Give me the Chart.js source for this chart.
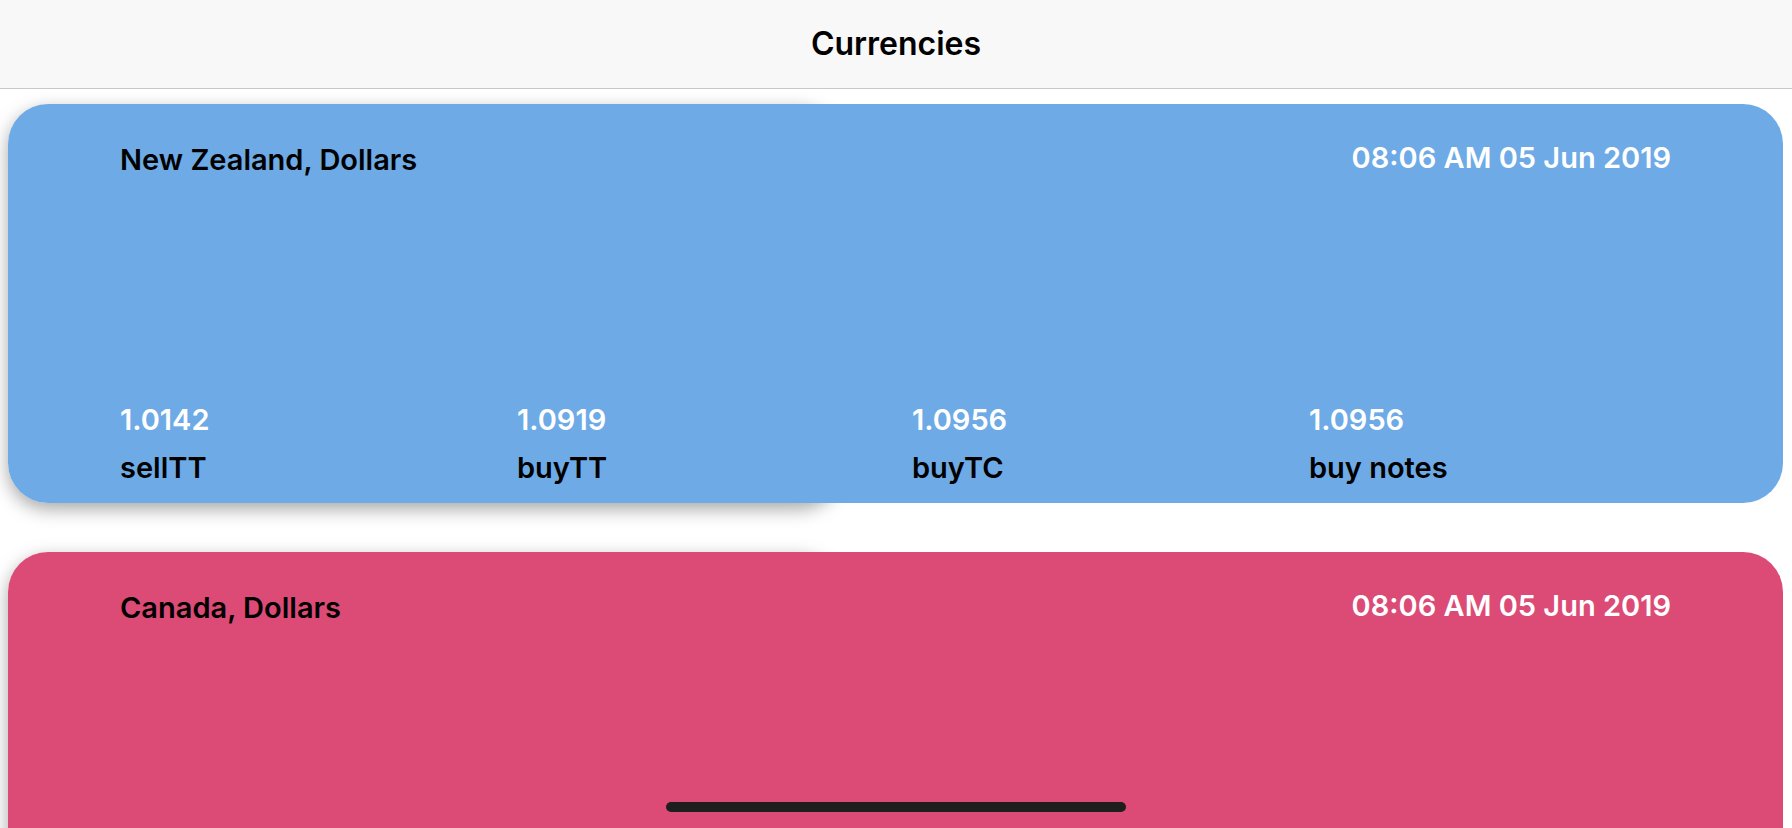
<!DOCTYPE html>
<html><head><meta charset="utf-8">
<script src="https://cdn.jsdelivr.net/npm/chart.js@4"></script>
<style>
html,body{margin:0;width:1792px;height:828px;overflow:hidden;background:#fff;font-family:Inter,"Noto Sans",sans-serif}
#hdr{position:absolute;left:0;top:0;width:1792px;height:88px;background:#f8f8f8;border-bottom:1px solid #c8c8c8;text-align:center;line-height:88px;font-size:32px;font-weight:600;color:#000}
.shadow{position:absolute;left:8px;width:832px;border-radius:40px;box-shadow:0 6px 18px rgba(0,0,0,0.35)}
.card{position:absolute;left:8px;width:1775px;border-radius:40px}
.t{position:absolute;font-size:29px;font-weight:600;white-space:nowrap}
canvas{position:absolute}
#bar{position:absolute;left:666px;top:802px;width:460px;height:10px;border-radius:5px;background:#1e1e1e}
</style></head><body>
<div id="hdr">Currencies</div>
<div id="root"></div>
<div id="bar"></div>
<script>
const names=["New Zealand, Dollars","Canada, Dollars"];
const stamps=["08:06 AM 05 Jun 2019","08:06 AM 05 Jun 2019"];
const rateLabels=["sellTT","buyTT","buyTC","buy notes"];
const nzRates=["1.0142","1.0919","1.0956","1.0956"];
const caRates=[null,null,null,null];
const colors=["#6EAAE6","#DC4A76"];
const tops=[104,552];
const root=document.getElementById('root');
[nzRates,caRates].forEach((rates,i)=>{
  const top=tops[i];
  const s=document.createElement('div');s.className='shadow';s.style.top=top+'px';s.style.height='399px';root.appendChild(s);
  const c=document.createElement('div');c.className='card';c.style.top=top+'px';c.style.height=(i==0?399:400)+'px';c.style.background=colors[i];root.appendChild(c);
  const add=(txt,css,col)=>{const e=document.createElement('div');e.className='t';e.textContent=txt;Object.assign(e.style,css);e.style.color=col;c.appendChild(e);};
  add(names[i],{left:'112px',top:'38px'},'#000');
  add(stamps[i],{right:'112px',top:'36px'},'#fff');
  const cv=document.createElement('canvas');cv.width=1500;cv.height=150;cv.style.left='112px';cv.style.top='110px';cv.style.width='1500px';cv.style.height='150px';c.appendChild(cv);
  new Chart(cv,{type:'line',data:{labels:rateLabels,datasets:[{data:[],borderColor:'#fff'}]},options:{responsive:false,animation:false,plugins:{legend:{display:false},tooltip:{enabled:false}},scales:{x:{display:false},y:{display:false}}}});
  if(rates[0]!==null){
    const xs=[112,509,904,1301];
    rates.forEach((r,j)=>{add(r,{left:xs[j]+'px',top:'298px'},'#fff');add(rateLabels[j],{left:xs[j]+'px',top:'346px'},'#000');});
  }
});
</script></body></html>
